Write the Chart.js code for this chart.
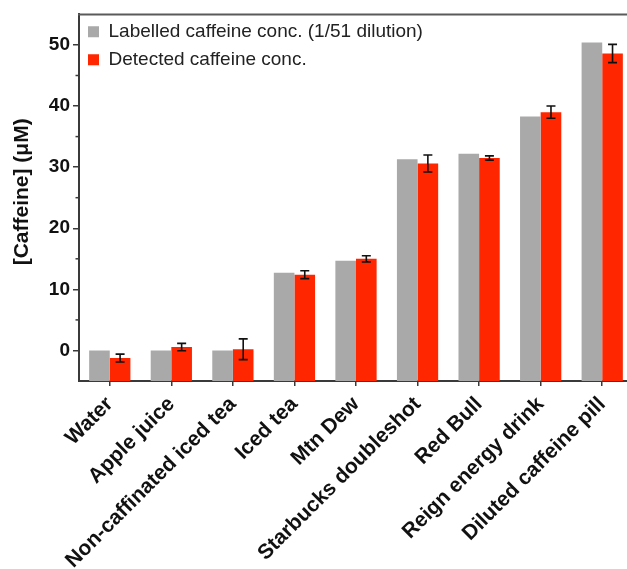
<!DOCTYPE html>
<html>
<head>
<meta charset="utf-8">
<script src="https://cdn.jsdelivr.net/npm/chart.js@4"></script>
<style>
html,body{margin:0;padding:0;background:#fff;overflow:hidden;}
#wrap{width:633px;height:569px;}
</style>
</head>
<body>
<div id="wrap"><canvas id="c" width="633" height="569"></canvas></div>
<script>
const categories = ["Water","Apple juice","Non-caffinated iced tea","Iced tea","Mtn Dew","Starbucks doubleshot","Red Bull","Reign energy drink","Diluted caffeine pill"];
const labelledConc = [0, 0, 0, 12.7, 14.7, 31.3, 32.2, 38.3, 50.4];
const detectedConc = [-1.25, 0.55, 0.2, 12.4, 15.0, 30.6, 31.5, 39.0, 48.6];
const detectedErr = [0.65, 0.6, 1.7, 0.65, 0.5, 1.4, 0.35, 1.0, 1.5];
const yTicks = [0, 10, 20, 30, 40, 50];
const yMinorTicks = [5, 15, 25, 35, 45];

const AXIS = '#3a3a3a';

const extras = {
  id: 'extras',
  afterDatasetsDraw(chart) {
    const ctx = chart.ctx;
    const y = chart.scales.y;
    const meta = chart.getDatasetMeta(1);
    ctx.save();
    ctx.strokeStyle = '#111';
    ctx.lineWidth = 1.6;
    meta.data.forEach((bar, i) => {
      const v = detectedConc[i], e = detectedErr[i];
      const yt = y.getPixelForValue(v + e), yb = y.getPixelForValue(v - e);
      const x = bar.x, hw = 4.5;
      ctx.beginPath();
      ctx.moveTo(x, yt); ctx.lineTo(x, yb);
      ctx.moveTo(x - hw, yt); ctx.lineTo(x + hw, yt);
      ctx.moveTo(x - hw, yb); ctx.lineTo(x + hw, yb);
      ctx.stroke();
    });
    ctx.restore();
  },
  afterDraw(chart) {
    const ctx = chart.ctx;
    const a = chart.chartArea;
    const y = chart.scales.y;
    ctx.save();
    ctx.strokeStyle = '#5a5a5a';
    ctx.lineWidth = 2;
    ctx.beginPath();
    ctx.moveTo(a.left - 1, a.top);
    ctx.lineTo(a.right, a.top);
    ctx.stroke();
    ctx.strokeStyle = AXIS;
    ctx.lineWidth = 1.5;
    yMinorTicks.forEach(v => {
      const py = y.getPixelForValue(v);
      ctx.beginPath();
      ctx.moveTo(a.left - 3.5, py);
      ctx.lineTo(a.left, py);
      ctx.stroke();
    });
    ctx.restore();
  }
};

new Chart(document.getElementById('c'), {
  type: 'bar',
  data: {
    labels: categories,
    datasets: [
      { label: 'Labelled caffeine conc. (1/51 dilution)', data: labelledConc, backgroundColor: '#a9a9a9', base: -5 },
      { label: 'Detected caffeine conc.', data: detectedConc, backgroundColor: '#ff2600', base: -5 }
    ]
  },
  options: {
    responsive: false,
    animation: false,
    devicePixelRatio: 1,
    layout: { padding: { top: 10, right: 0, left: 0, bottom: 0 } },
    datasets: { bar: { categoryPercentage: 0.67, barPercentage: 1.0 } },
    plugins: {
      tooltip: { enabled: false },
      legend: {
        position: 'chartArea',
        align: 'start',
        title: { display: true, text: ' ', font: { size: 1 }, padding: { top: 12, bottom: 0 } },
        labels: {
          boxWidth: 11, boxHeight: 11, padding: 9,
          color: '#222',
          font: { family: 'Liberation Sans, Arial, sans-serif', size: 19 }
        }
      }
    },
    scales: {
      x: {
        offset: true,
        grid: { display: true, drawOnChartArea: false, drawTicks: true, tickLength: 5, offset: false, color: AXIS, lineWidth: 1.5 },
        border: { display: true, color: AXIS, width: 2 },
        ticks: {
          maxRotation: 45, minRotation: 45, autoSkip: false, padding: 6,
          color: '#111',
          font: { family: 'Liberation Sans, Arial, sans-serif', size: 21, weight: 'bold' }
        },
        afterFit(s) { s.height = 188; }
      },
      y: {
        min: -5, max: 55,
        afterBuildTicks(s) { s.ticks = yTicks.map(v => ({ value: v })); },
        grid: { display: true, drawOnChartArea: false, drawTicks: true, tickLength: 6, color: AXIS, lineWidth: 1.5 },
        border: { display: true, color: AXIS, width: 2 },
        ticks: {
          padding: 3, color: '#111',
          font: { family: 'Liberation Sans, Arial, sans-serif', size: 19, weight: 'bold' }
        },
        title: {
          display: true, text: '  [Caffeine] (μM)', color: '#111',
          padding: { top: 10, bottom: 0 },
          font: { family: 'Liberation Sans, Arial, sans-serif', size: 21, weight: 'bold' }
        },
        afterFit(s) { s.width = 79; }
      }
    }
  },
  plugins: [extras]
});
</script>
</body>
</html>
